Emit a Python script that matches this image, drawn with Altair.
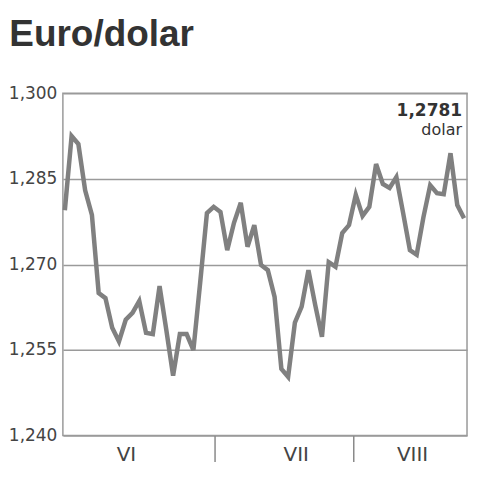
import altair as alt
import pandas as pd

title_text = "Euro/dolar"
values = [1.2795, 1.2925, 1.2911, 1.2830, 1.2787, 1.2650, 1.2641, 1.2589, 1.2565, 1.2603,
          1.2615, 1.2636, 1.2580, 1.2578, 1.2662, 1.2585, 1.2505, 1.2578, 1.2578, 1.2550,
          1.2668, 1.2790, 1.2801, 1.2792, 1.2725, 1.2773, 1.2808, 1.2731, 1.2769, 1.2699,
          1.2690, 1.2643, 1.2517, 1.2503, 1.2598, 1.2626, 1.2690, 1.2629, 1.2573, 1.2704,
          1.2696, 1.2755, 1.2769, 1.2822, 1.2785, 1.2801, 1.2876, 1.2841, 1.2834, 1.2853,
          1.2790, 1.2725, 1.2717, 1.2783, 1.2839, 1.2825, 1.2823, 1.2895, 1.2804, 1.2781]
months = ["VI", "VII", "VIII"]
month_label_pos = [9.1, 34.2, 51.4]
month_breaks = [22.1, 42.7]
y_ticks = [1.240, 1.255, 1.270, 1.285, 1.300]
last_value_label = ["1,2781"]
unit_label = ["dolar"]

df = pd.DataFrame({"i": list(range(len(values))), "v": values})
mdf = pd.DataFrame({"m": months, "pos": month_label_pos})

W, H = 405, 343
xscale = alt.Scale(domain=[-0.29, 59.44], nice=False, zero=False)
yscale = alt.Scale(domain=[1.240, 1.300], nice=False, zero=False)

line = alt.Chart(df).mark_line(color="#808080", strokeWidth=4.5).encode(
    x=alt.X("i:Q", scale=xscale,
            axis=alt.Axis(values=month_breaks, labels=False, tickSize=26, tickColor="#8a8a8a",
                          tickWidth=1.5, domain=False, grid=False, title=None)),
    y=alt.Y("v:Q", scale=yscale,
            axis=alt.Axis(values=y_ticks,
                          labelExpr="replace(format(datum.value, '.3f'), '.', ',')",
                          ticks=False, domain=False, grid=True, gridColor="#9a9a9a",
                          gridWidth=1.5, labelFont="DejaVu Sans", labelFontSize=17,
                          labelColor="#444444", labelPadding=6, title=None)),
)

month_text = alt.Chart(mdf).mark_text(font="DejaVu Sans", fontSize=20, color="#444444",
                                      baseline="middle", align="center").encode(
    x=alt.X("pos:Q", scale=xscale),
    y=alt.value(H + 19),
    text="m:N",
)

val_text = alt.Chart(pd.DataFrame({"t": last_value_label})).mark_text(
    font="DejaVu Sans", fontSize=17, fontWeight="bold", color="#333333",
    align="right", baseline="alphabetic").encode(
    x=alt.value(W - 5), y=alt.value(23), text="t:N")

unit_text = alt.Chart(pd.DataFrame({"t": unit_label})).mark_text(
    font="DejaVu Sans", fontSize=16, color="#333333",
    align="right", baseline="alphabetic").encode(
    x=alt.value(W - 5), y=alt.value(42), text="t:N")

chart = alt.layer(line, month_text, val_text, unit_text).properties(
    width=W, height=H,
    padding={"left": 0, "top": 8, "right": 0, "bottom": 0},
    title=alt.Title(title_text, anchor="start", frame="bounds", font="Liberation Sans",
                    fontSize=37, fontWeight="bold", color="#333333", offset=30, dx=1),
).configure_view(stroke="#9a9a9a", strokeWidth=1.5)

chart.save("out.html", embed_options={"renderer": "svg", "actions": False})
